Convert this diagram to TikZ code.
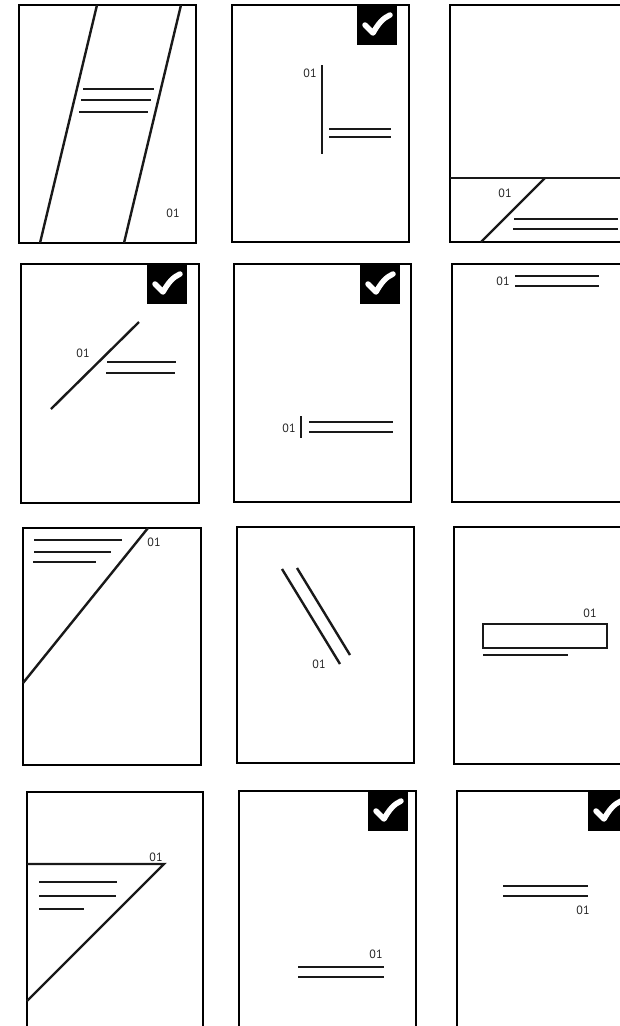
\documentclass[tikz,border=0pt]{standalone}
\usepackage{fontspec}
\setsansfont{PT Sans}
\usetikzlibrary{positioning}

% black square with a white tick, given by its top left corner
\newcommand{\tickbadge}[2]{%
  \fill[black] (#1,#2) rectangle ++(40,40);
  \draw[white, line width=5.5pt, line cap=round, line join=round]
    (#1+8,#2+20) -- (#1+16,#2+28)
    .. controls (#1+21,#2+19) and (#1+26,#2+13) .. (#1+33,#2+10);}

\begin{document}
\begin{tikzpicture}[
  x=1pt, y=-1pt,
  font=\sffamily\fontsize{12}{14}\selectfont,
  sheet/.style={draw=black, line width=2.5pt},
  bar/.style={draw=black!90, line width=2.4pt},
  num/.style={inner sep=0pt, text=black!85},
]
\useasboundingbox (0,0) rectangle (620,1026);
\clip (0,0) rectangle (620,1026);

% row 1
\draw[sheet] (19,5) rectangle (196,243);
\draw[bar] (97,5) -- (40,243);
\draw[bar] (181,5) -- (124,243);
\draw[bar] (83,89) -- (154,89);
\draw[bar] (81,100) -- (151,100);
\draw[bar] (79,112) -- (148,112);
\node[num] (n1) at (173,213) {01};

\draw[sheet] (232,5) rectangle (409,242);
\tickbadge{357}{5}
\draw[bar] (322,65) -- (322,154);
\draw[bar] (329,129) -- (391,129);
\draw[bar] (329,137) -- (391,137);
\node[num] (n2) at (310,73) {01};

\draw[sheet] (450,5) rectangle (627,242);
\draw[bar] (450,178) -- (627,178);
\draw[bar] (545,178) -- (481,242);
\draw[bar] (514,219) -- (618,219);
\draw[bar] (513,229) -- (618,229);
\node[num] (n3) at (505,193) {01};

% row 2
\draw[sheet] (21,264) rectangle (199,503);
\tickbadge{147}{264}
\draw[bar] (51,409) -- (139,322);
\draw[bar] (107,362) -- (176,362);
\draw[bar] (106,373) -- (175,373);
\node[num] (n4) at (83,353) {01};

\draw[sheet] (234,264) rectangle (411,502);
\tickbadge{360}{264}
\draw[bar] (301,416) -- (301,438);
\draw[bar] (309,422) -- (393,422);
\draw[bar] (309,432) -- (393,432);
\node[num] (n5) at (289,428) {01};

\draw[sheet] (452,264) rectangle (629,502);
\draw[bar] (515,276) -- (599,276);
\draw[bar] (515,286) -- (599,286);
\node[num] (n6) at (503,281) {01};

% row 3
\draw[sheet] (23,528) rectangle (201,765);
\draw[bar] (23,683) -- (148,528);
\draw[bar] (34,540) -- (122,540);
\draw[bar] (34,552) -- (111,552);
\draw[bar] (33,562) -- (96,562);
\node[num] (n7) at (154,542) {01};

\draw[sheet] (237,527) rectangle (414,763);
\draw[bar] (282,569) -- (340,664);
\draw[bar] (297,568) -- (350,655);
\node[num] (n8) at (319,664) {01};

\draw[sheet] (454,527) rectangle (631,764);
\draw[bar] (483,624) rectangle (607,648);
\draw[bar] (483,655) -- (568,655);
\node[num] (n9) at (590,613) {01};

% row 4
\draw[sheet] (27,1040) -- (27,792) -- (203,792) -- (203,1040);
\draw[bar] (27,864) -- (164,864) -- (27,1001);
\draw[bar] (39,882) -- (117,882);
\draw[bar] (39,896) -- (116,896);
\draw[bar] (39,909) -- (84,909);
\node[num] (n10) at (156,857) {01};

\draw[sheet] (239,1040) -- (239,791) -- (416,791) -- (416,1040);
\tickbadge{368}{791}
\draw[bar] (298,967) -- (384,967);
\draw[bar] (298,977) -- (384,977);
\node[num] (n11) at (376,954) {01};

\draw[sheet] (457,1040) -- (457,791) -- (640,791) -- (640,1040);
\tickbadge{588}{791}
\draw[bar] (503,886) -- (588,886);
\draw[bar] (503,896) -- (588,896);
\node[num] (n12) at (583,910) {01};

\end{tikzpicture}
\end{document}
